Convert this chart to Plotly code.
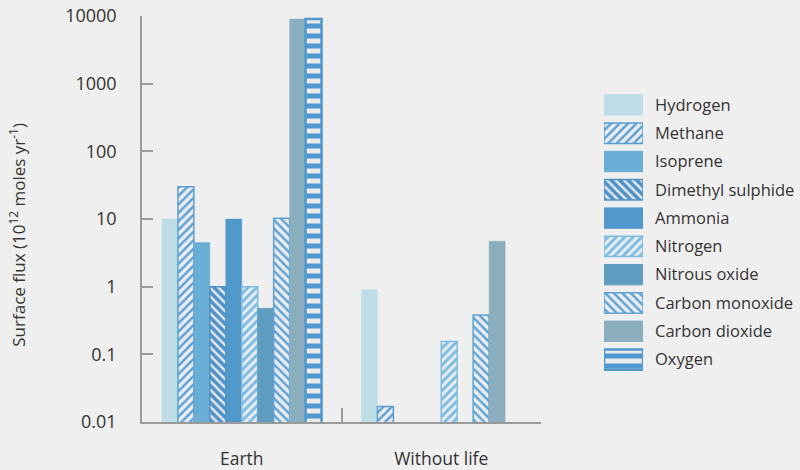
import plotly.graph_objects as go

groups = ["Earth", "Without life"]
gases = ["Hydrogen", "Methane", "Isoprene", "Dimethyl sulphide", "Ammonia",
         "Nitrogen", "Nitrous oxide", "Carbon monoxide", "Carbon dioxide", "Oxygen"]

hydrogen = [10, 0.9]
methane = [30, 0.017]
isoprene = [4.5, None]
dimethyl_sulphide = [1.0, None]
ammonia = [10, None]
nitrogen = [1.0, 0.155]
nitrous_oxide = [0.48, None]
carbon_monoxide = [10.3, 0.38]
carbon_dioxide = [9000, 4.7]
oxygen = [9000, None]

series = [hydrogen, methane, isoprene, dimethyl_sulphide, ammonia,
          nitrogen, nitrous_oxide, carbon_monoxide, carbon_dioxide, oxygen]

y_ticks = [0.01, 0.1, 1, 10, 100, 1000, 10000]
y_ticktext = ["0.01", "0.1", "1", "10", "100", "1000", "10000"]

BG = "#efefef"
styles = [
    dict(color="#bfdde7", line="#bfdde7", lw=0.5, pat=None),
    dict(color="#5a9fd4", line="#5a9fd4", lw=1.5, pat=dict(shape="/", fg="#ececec", size=6, sol=0.6)),
    dict(color="#6aaed5", line="#6aaed5", lw=0.5, pat=None),
    dict(color="#4f92c8", line="#4f92c8", lw=1.5, pat=dict(shape="\\", fg="#ececec", size=6, sol=0.4)),
    dict(color="#5198cb", line="#5198cb", lw=0.5, pat=None),
    dict(color="#7dbde2", line="#7dbde2", lw=1.5, pat=dict(shape="/", fg="#ececec", size=6, sol=0.5)),
    dict(color="#5f9dc0", line="#5f9dc0", lw=0.5, pat=None),
    dict(color="#5ca2d6", line="#5ca2d6", lw=1.5, pat=dict(shape="\\", fg="#ececec", size=6, sol=0.6)),
    dict(color="#8aaebe", line="#8aaebe", lw=0.5, pat=None),
    dict(color="#4f97cf", line="#4f97cf", lw=2.5, pat=dict(shape="-", fg="#ececec", size=10, sol=0.5)),
]

FONT = "Open Sans"
TXT = "#333333"

fig = go.Figure()

for name, vals, st in zip(gases, series, styles):
    marker = dict(color=st["color"], line=dict(color=st["line"], width=st["lw"]))
    if st["pat"]:
        p = st["pat"]
        marker["pattern"] = dict(shape=p["shape"], fgcolor=p["fg"], bgcolor=st["color"],
                                 size=p["size"], solidity=p["sol"], fillmode="replace")
    fig.add_trace(go.Bar(x=groups, y=vals, name=name, marker=marker,
                         showlegend=False, xaxis="x", yaxis="y"))

# custom legend drawn as a small horizontal bar chart
legend_val = [1] * len(gases)
for i, (name, st) in enumerate(zip(gases, styles)):
    marker = dict(color=st["color"], line=dict(color=st["line"], width=max(st["lw"], 1)))
    if st["pat"]:
        p = st["pat"]
        marker["pattern"] = dict(shape=p["shape"], fgcolor=p["fg"], bgcolor=st["color"],
                                 size=p["size"], solidity=p["sol"], fillmode="replace")
    fig.add_trace(go.Bar(x=[legend_val[i]], y=[i], orientation="h", width=0.72,
                         marker=marker, showlegend=False, xaxis="x2", yaxis="y2"))

W, H = 800, 470
L, R, T, B = 142, 0, 16, 47.5
pw = W - L - R

fig.update_layout(
    width=W, height=H,
    margin=dict(l=L, r=R, t=T, b=B),
    paper_bgcolor=BG, plot_bgcolor=BG,
    barmode="group", bargap=0.2, bargroupgap=0,
    font=dict(family=FONT, size=16, color=TXT),
    xaxis=dict(domain=[0, 399 / pw], type="category", showline=True, linecolor="#9a9a9a",
               linewidth=1.5, ticks="inside", tickson="boundaries", ticklen=14,
               tickcolor="#9a9a9a", tickwidth=1.5, showgrid=False, zeroline=False,
               ticklabelstandoff=20, tickfont=dict(size=17.5, color=TXT)),
    yaxis=dict(type="log", range=[-2, 4], tickvals=y_ticks, ticktext=y_ticktext,
               showline=True, linecolor="#9a9a9a", linewidth=1.5, ticks="inside",
               ticklen=11, tickcolor="#9a9a9a", tickwidth=1.5, showgrid=False,
               zeroline=False, ticklabelstandoff=20, tickfont=dict(size=18, color=TXT)),
    xaxis2=dict(domain=[(604 - L) / pw, (643 - L) / pw], range=[0, 1], anchor="y2",
                visible=False, fixedrange=True),
    yaxis2=dict(domain=[0, 1], anchor="x2", side="right",
                range=[9 + (422.5 - 360) / 28.33, -(105 - 16) / 28.33],
                tickvals=list(range(len(gases))), ticktext=gases,
                showline=False, showgrid=False, zeroline=False, ticks="",
                ticklabelstandoff=11, tickfont=dict(size=16.5, color=TXT)),
    annotations=[dict(text="Surface flux (10<sup>12</sup> moles yr<sup>-1</sup>)",
                      x=(18 - L) / pw, y=(422.5 - 235) / (470 - T - B),
                      xref="paper", yref="paper", textangle=-90, showarrow=False,
                      font=dict(size=17, color=TXT), xanchor="center", yanchor="middle")],
)

fig.write_html("out.html")
